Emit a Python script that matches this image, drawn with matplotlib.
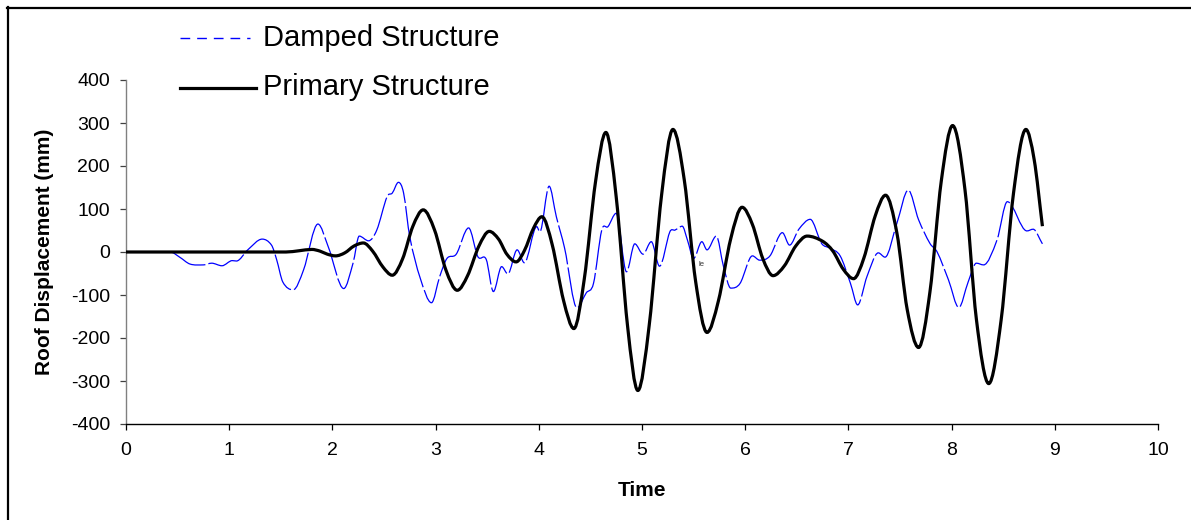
import matplotlib
matplotlib.use("Agg")
import matplotlib.pyplot as plt
from matplotlib.path import Path
from matplotlib.patches import PathPatch
from matplotlib.lines import Line2D
import numpy as np

plt.rcParams['font.family'] = ['Liberation Sans', 'DejaVu Sans']

# ---- data ----
primary_t = [0.00, 1.55, 1.68, 1.80, 1.88, 1.95, 2.03, 2.12, 2.21, 2.30, 2.39, 2.49, 2.58,
             2.68, 2.78, 2.88, 2.99, 3.10, 3.21, 3.31, 3.42, 3.52, 3.61, 3.69, 3.78,
             3.86, 3.95, 4.03, 4.13, 4.24, 4.34, 4.44, 4.55, 4.65, 4.75, 4.86, 4.96,
             5.07, 5.19, 5.30, 5.41, 5.52, 5.63, 5.74, 5.86, 5.97, 6.07, 6.17, 6.27,
             6.38, 6.49, 6.60, 6.75, 6.85, 6.95, 7.05, 7.15, 7.26, 7.36, 7.47, 7.57,
             7.68, 7.79, 7.90, 8.01, 8.13, 8.24, 8.36, 8.48, 8.60, 8.72, 8.80, 8.88]
primary_v = [0, 0, 3, 6, 2, -5, -9, -2, 14, 21, 2, -35, -54,
             -16, 60, 98, 51, -42, -89, -55, 14, 48, 30, -5, -23,
             3, 56, 82, 17, -113, -178, -64, 164, 278, 128, -172, -322,
             -170, 133, 285, 167, -69, -187, -114, 31, 104, 64, -15, -55,
             -32, 14, 37, 25, 2, -40, -62, -14, 84, 132, 44, -134,
             -222, -93, 165, 294, 144, -156, -306, -158, 137, 285, 215, 60]

damped_t = [0.00, 0.43, 0.52, 0.62, 0.75, 0.83, 0.93, 1.03, 1.07, 1.18, 1.32, 1.41, 1.46,
            1.52, 1.62, 1.72, 1.86, 1.96, 2.11, 2.20, 2.26, 2.35, 2.43, 2.53, 2.58,
            2.64, 2.69, 2.75, 2.85, 2.96, 3.04, 3.11, 3.20, 3.32, 3.41, 3.49, 3.56,
            3.64, 3.70, 3.79, 3.86, 3.98, 4.01, 4.10, 4.17, 4.25, 4.37, 4.46, 4.53,
            4.61, 4.67, 4.75, 4.85, 4.93, 5.01, 5.09, 5.17, 5.27, 5.32, 5.39, 5.44,
            5.50, 5.58, 5.63, 5.72, 5.79, 5.86, 5.95, 6.07, 6.14, 6.24, 6.36, 6.43,
            6.52, 6.63, 6.74, 6.82, 6.92, 7.02, 7.09, 7.18, 7.29, 7.355, 7.47, 7.58,
            7.68, 7.79, 7.86, 7.97, 8.07, 8.16, 8.24, 8.31, 8.44, 8.54, 8.73, 8.79, 8.88]
damped_v = [0, 0, -12, -28, -30, -26, -32, -20, -21, 5, 30, 16, -18,
            -70, -88, -42, 65, 12, -85, -26, 37, 26, 51, 129, 137,
            162, 137, 35, -60, -118, -57, -15, -5, 56, -11, -17, -92,
            -34, -51, 5, -25, 59, 47, 153, 82, 9, -130, -95, -73,
            51, 59, 90, -46, 19, -5, 24, -33, 47, 51, 60, 28,
            -15, 24, 5, 37, -34, -84, -73, -9, -19, -9, 45, 16,
            53, 76, 20, 9, -9, -73, -123, -57, -2, -12, 67, 144,
            75, 20, 0, -65, -129, -70, -26, -30, 28, 117, 49, 53, 19]

series_labels = ['Damped Structure', 'Primary Structure']
x_ticks = list(range(0, 11))
y_ticks = list(range(-400, 401, 100))


def smooth_path(t, v):
    """Smoothed line (like a spreadsheet 'smoothed line') through the data points,
    built as cubic Bezier segments; the library draws the curve."""
    t = np.asarray(t, float)
    v = np.asarray(v, float)
    n = len(t)
    m = np.zeros(n)
    for i in range(n):
        if i == 0:
            m[i] = (v[1] - v[0]) / (t[1] - t[0])
        elif i == n - 1:
            m[i] = (v[-1] - v[-2]) / (t[-1] - t[-2])
        else:
            if (v[i] - v[i - 1]) * (v[i + 1] - v[i]) <= 0:
                m[i] = 0.0
            else:
                m[i] = (v[i + 1] - v[i - 1]) / (t[i + 1] - t[i - 1])
    verts = [(t[0], v[0])]
    codes = [Path.MOVETO]
    for i in range(n - 1):
        dt = t[i + 1] - t[i]
        verts += [(t[i] + dt / 3, v[i] + m[i] * dt / 3),
                  (t[i + 1] - dt / 3, v[i + 1] - m[i + 1] * dt / 3),
                  (t[i + 1], v[i + 1])]
        codes += [Path.CURVE4] * 3
    return Path(verts, codes)


W, H = 1191, 520
fig = plt.figure(figsize=(W / 100, H / 100), dpi=100)
ax = fig.add_axes([126 / W, 1 - 424 / H, 1032 / W, 344 / H])

blue = '#0000ff'
damped_patch = PathPatch(smooth_path(damped_t, damped_v), fill=False, edgecolor=blue,
                         linewidth=0.9, linestyle=(0, (32, 2.5)), zorder=2)
ax.add_patch(damped_patch)
primary_patch = PathPatch(smooth_path(primary_t, primary_v), fill=False, edgecolor='black',
                          linewidth=2.3, linestyle='-', zorder=3, capstyle='butt')
ax.add_patch(primary_patch)

ax.set_xlim(0, 10)
ax.set_ylim(-400, 400)
ax.set_xticks(x_ticks)
ax.set_yticks(y_ticks)
ax.set_xticklabels([str(x) for x in x_ticks])
ax.set_yticklabels([str(y) for y in y_ticks])

for s in ['top', 'right']:
    ax.spines[s].set_visible(False)
ax.spines['left'].set_color('#808080')
ax.spines['left'].set_linewidth(1.0)
ax.spines['bottom'].set_color('black')
ax.spines['bottom'].set_linewidth(1.0)

ax.tick_params(axis='x', direction='out', length=4.5, width=0.9, labelsize=14, pad=8.5,
               color='black')
ax.tick_params(axis='y', direction='out', length=4.5, width=0.9, labelsize=14, pad=7,
               color='#404040')

ax.set_xlabel('Time', fontsize=15, fontweight='bold')
ax.xaxis.label.set_va('center')
ax.xaxis.set_label_coords(0.5, (424 - 491) / 344)
ax.set_ylabel('Roof Displacement (mm)', fontsize=15, fontweight='bold')
ax.yaxis.label.set_va('center')
ax.yaxis.set_label_coords((45 - 126) / 1032, 0.5)

# small stray text visible in the reference
ax.text(5.58, -30, 'le', fontsize=5.5, color='#333333', ha='center', va='center')

# legend (drawn in figure coordinates)
fig.add_artist(Line2D([180 / W, 250 / W], [1 - 38 / H, 1 - 38 / H], transform=fig.transFigure,
                      color=blue, linewidth=1.0, linestyle=(0, (7, 5))))
fig.add_artist(Line2D([180 / W, 256 / W], [1 - 88 / H, 1 - 88 / H], transform=fig.transFigure,
                      color='black', linewidth=2.3))
fig.text(263 / W, 1 - 46 / H, series_labels[0], fontsize=21, va='baseline', ha='left')
fig.text(263 / W, 1 - 95 / H, series_labels[1], fontsize=21, va='baseline', ha='left')

# chart-area border (top and left edges visible in the reference)
fig.add_artist(Line2D([7 / W, 1.0], [1 - 7.5 / H, 1 - 7.5 / H], transform=fig.transFigure,
                      color='black', linewidth=1.6))
fig.add_artist(Line2D([7.5 / W, 7.5 / W], [0.0, 1 - 7 / H], transform=fig.transFigure,
                      color='black', linewidth=1.6))

fig.savefig('out.png', dpi=100)
